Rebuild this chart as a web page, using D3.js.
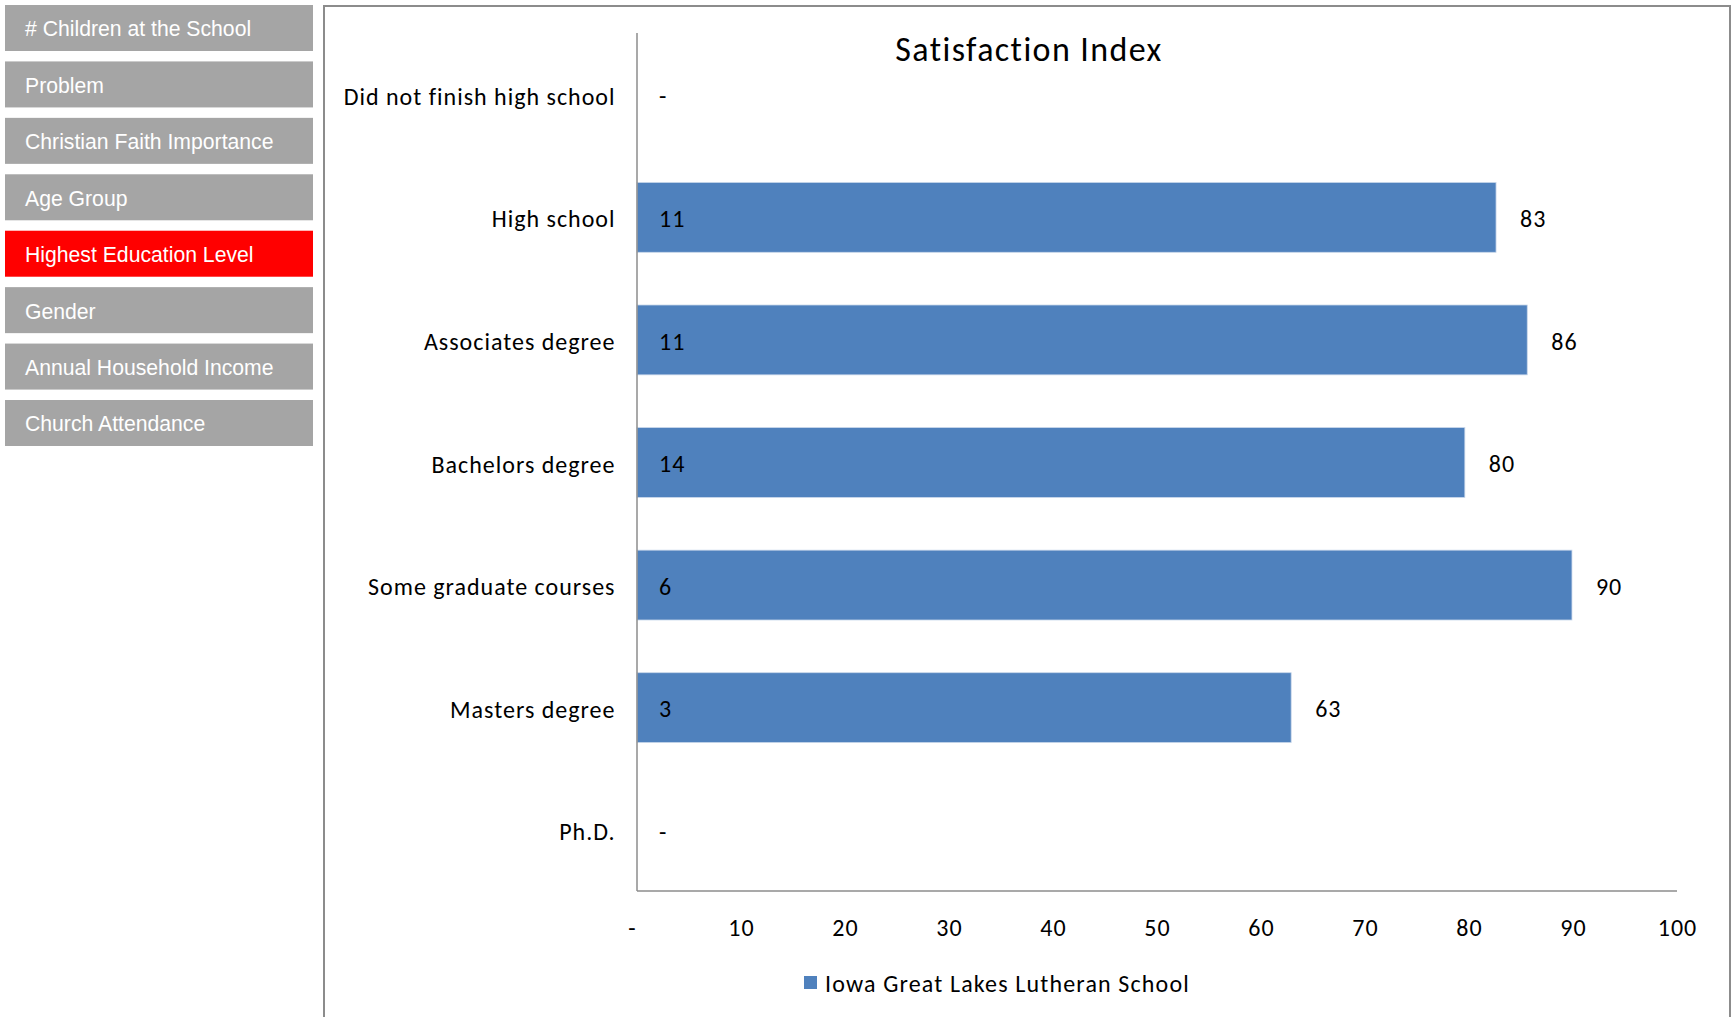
<!DOCTYPE html>
<html><head><meta charset="utf-8">
<script src="https://cdn.jsdelivr.net/npm/d3@7"></script>
<style>
html,body{margin:0;padding:0;background:#fff;}
svg{display:block;}
</style></head>
<body>
<svg id="c" width="1732" height="1017"></svg>
<script>
const menuItems = ["# Children at the School","Problem","Christian Faith Importance","Age Group","Highest Education Level","Gender","Annual Household Income","Church Attendance"];
const activeItem = "Highest Education Level";
const categories = ["Did not finish high school","High school","Associates degree","Bachelors degree","Some graduate courses","Masters degree","Ph.D."];
const satisfaction = [null, 82.6, 85.6, 79.6, 89.9, 62.9, null];
const respondents = [null, 11, 11, 14, 6, 3, null];
const xTicks = [0,10,20,30,40,50,60,70,80,90,100];
const seriesName = "Iowa Great Lakes Lutheran School";
const chartTitle = "Satisfaction Index";

const svg = d3.select("#c");
const calibri = "Carlito, Calibri, Lato, sans-serif";
const FS = 24, LS = 1.0;

// sidebar menu
const menuY = d3.scalePoint().domain(menuItems).range([5, 400]);
const menu = svg.append("g");
menuItems.forEach(m => {
  const g = menu.append("g").attr("transform", `translate(5,${menuY(m)})`);
  g.append("rect").attr("width", 308).attr("height", 46)
    .attr("fill", m === activeItem ? "#ff0000" : "#a5a5a5");
  g.append("text").attr("x", 20).attr("y", 24).attr("dy", "0.35em")
    .attr("fill", "#ffffff").attr("font-family", "'Liberation Sans', Arial, sans-serif")
    .attr("font-size", 21.2).text(m);
});

// chart panel border
svg.append("path").attr("d", "M324,1017 L324,6 L1730,6 L1730,1017")
  .attr("fill", "none").attr("stroke", "#8c8c8c").attr("stroke-width", 2);

const x = d3.scaleLinear().domain([0, 100]).range([637, 1677]);
const y = d3.scaleBand().domain(categories).range([33.5, 891.5]).paddingInner(0.43).paddingOuter(0.215);

svg.append("text").attr("x", 1029).attr("y", 49).attr("dy", "0.35em")
  .attr("text-anchor", "middle").attr("font-family", calibri).attr("font-size", 34)
  .attr("letter-spacing", 1.4).attr("fill", "#000").text(chartTitle);

// bars
const rows = categories.map((c, i) => ({c, v: satisfaction[i], n: respondents[i]}));
svg.append("g").selectAll("rect").data(rows.filter(d => d.v != null)).join("rect")
  .attr("x", x(0)).attr("y", d => y(d.c))
  .attr("width", d => x(d.v) - x(0)).attr("height", y.bandwidth())
  .attr("fill", "#4f81bd").attr("stroke", "#c9d7ea").attr("stroke-width", 0.8);

// axes
const yAxis = svg.append("g").attr("transform", `translate(${x(0)},0)`)
  .call(d3.axisLeft(y).tickSize(0).tickPadding(21.5));
yAxis.select(".domain").attr("stroke", "#8c8c8c").attr("stroke-width", 1.5)
  .attr("d", `M0,33V891`);
yAxis.selectAll("text").attr("font-family", calibri).attr("font-size", FS)
  .attr("letter-spacing", LS).attr("dy", "0.42em").attr("fill", "#000");

const xAxis = svg.append("g").attr("transform", `translate(0,891)`)
  .call(d3.axisBottom(x).tickValues(xTicks).tickSize(0).tickPadding(30)
    .tickFormat(v => v === 0 ? "-" : v));
xAxis.select(".domain").attr("stroke", "#8c8c8c").attr("stroke-width", 1.5)
  .attr("d", `M${x(0)},0H${x(100)}`);
xAxis.selectAll("text").attr("font-family", calibri).attr("font-size", FS).attr("fill", "#000")
  .attr("letter-spacing", LS).attr("dy", "0.35em").attr("y", 37);
xAxis.selectAll(".tick").filter(d => d === 0).select("text").attr("dx", -5);

// value labels
const lbl = svg.append("g").attr("font-family", calibri).attr("font-size", FS)
  .attr("letter-spacing", LS).attr("fill", "#000");
lbl.selectAll("text.n").data(rows).join("text").attr("class", "n")
  .attr("x", x(0) + 22).attr("y", d => y(d.c) + y.bandwidth() / 2).attr("dy", "0.4em")
  .text(d => d.n == null ? "-" : d.n);
lbl.selectAll("text.v").data(rows.filter(d => d.v != null)).join("text").attr("class", "v")
  .attr("x", d => x(d.v) + 24).attr("y", d => y(d.c) + y.bandwidth() / 2).attr("dy", "0.4em")
  .text(d => Math.round(d.v));

// legend
const lg = svg.append("g").attr("transform", "translate(804,983)");
lg.append("rect").attr("x", 0).attr("y", -7).attr("width", 13).attr("height", 13).attr("fill", "#4f81bd");
lg.append("text").attr("x", 21).attr("y", 0).attr("dy", "0.38em")
  .attr("font-family", calibri).attr("font-size", FS).attr("letter-spacing", 1.15)
  .attr("fill", "#000").text(seriesName);
</script>
</body></html>
